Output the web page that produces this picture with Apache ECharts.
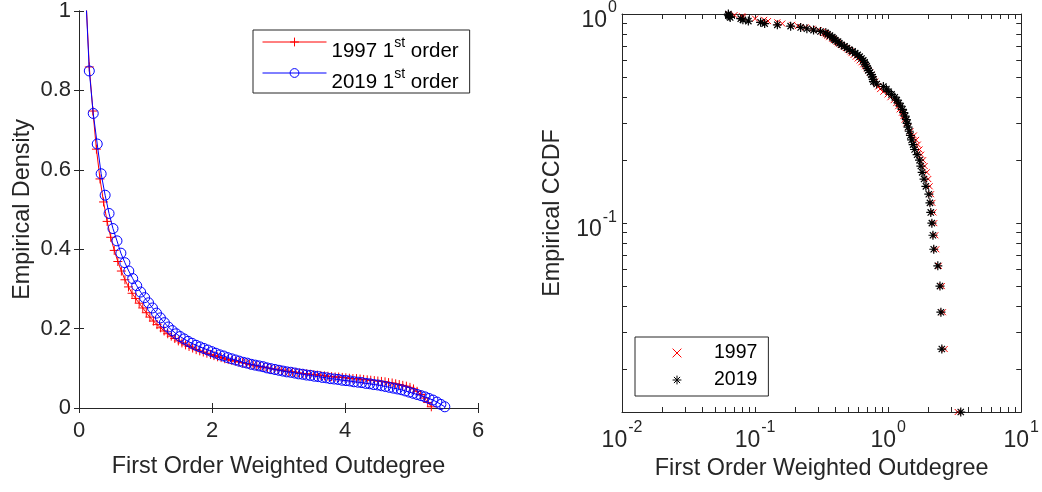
<!DOCTYPE html>
<html>
<head>
<meta charset="utf-8">
<script src="https://cdn.jsdelivr.net/npm/echarts@6/dist/echarts.min.js"></script>
<style>
html, body { margin: 0; padding: 0; background: #ffffff; }
#chart { width: 1042px; height: 492px; }
</style>
</head>
<body>
<div id="chart"></div>
<script>
// ---- Kernel density of first order weighted outdegree ----
const densityX1997 = [0.100, 0.155, 0.209, 0.262, 0.316, 0.369, 0.423, 0.477, 0.530, 0.584, 0.637, 0.691, 0.744, 0.798, 0.852, 0.905, 0.959, 1.012, 1.066, 1.119, 1.173, 1.227, 1.280, 1.334, 1.387, 1.441, 1.494, 1.548, 1.602, 1.655, 1.709, 1.762, 1.816, 1.869, 1.923, 1.977, 2.030, 2.084, 2.137, 2.191, 2.244, 2.298, 2.352, 2.405, 2.459, 2.512, 2.566, 2.619, 2.673, 2.727, 2.780, 2.834, 2.887, 2.941, 2.994, 3.048, 3.102, 3.155, 3.209, 3.262, 3.316, 3.369, 3.423, 3.477, 3.530, 3.584, 3.637, 3.691, 3.744, 3.798, 3.852, 3.905, 3.959, 4.012, 4.066, 4.119, 4.173, 4.227, 4.280, 4.334, 4.387, 4.441, 4.494, 4.548, 4.602, 4.655, 4.709, 4.762, 4.816, 4.869, 4.923, 4.977, 5.030, 5.084, 5.137, 5.191, 5.244, 5.298];
const density1997 = [1.050, 0.859, 0.748, 0.652, 0.577, 0.519, 0.470, 0.430, 0.397, 0.369, 0.345, 0.323, 0.305, 0.289, 0.276, 0.264, 0.252, 0.240, 0.229, 0.219, 0.210, 0.202, 0.194, 0.187, 0.181, 0.175, 0.169, 0.164, 0.159, 0.155, 0.151, 0.147, 0.144, 0.141, 0.138, 0.135, 0.132, 0.129, 0.127, 0.124, 0.122, 0.120, 0.118, 0.116, 0.114, 0.112, 0.110, 0.108, 0.106, 0.104, 0.103, 0.101, 0.099, 0.098, 0.096, 0.095, 0.093, 0.092, 0.091, 0.090, 0.088, 0.087, 0.086, 0.085, 0.084, 0.083, 0.082, 0.081, 0.080, 0.079, 0.078, 0.078, 0.077, 0.076, 0.075, 0.074, 0.074, 0.073, 0.072, 0.071, 0.070, 0.069, 0.068, 0.067, 0.066, 0.064, 0.063, 0.061, 0.059, 0.057, 0.055, 0.052, 0.048, 0.042, 0.034, 0.025, 0.014, 0.003];
const densityX2019 = [0.096, 0.155, 0.214, 0.274, 0.333, 0.393, 0.452, 0.511, 0.571, 0.630, 0.690, 0.749, 0.808, 0.868, 0.927, 0.987, 1.046, 1.105, 1.165, 1.224, 1.284, 1.343, 1.402, 1.462, 1.521, 1.581, 1.640, 1.699, 1.759, 1.818, 1.878, 1.937, 1.996, 2.056, 2.115, 2.175, 2.234, 2.293, 2.353, 2.412, 2.472, 2.531, 2.590, 2.650, 2.709, 2.769, 2.828, 2.887, 2.947, 3.006, 3.066, 3.125, 3.184, 3.244, 3.303, 3.363, 3.422, 3.481, 3.541, 3.600, 3.660, 3.719, 3.778, 3.838, 3.897, 3.957, 4.016, 4.075, 4.135, 4.194, 4.254, 4.313, 4.372, 4.432, 4.491, 4.551, 4.610, 4.669, 4.729, 4.788, 4.848, 4.907, 4.966, 5.026, 5.085, 5.145, 5.204, 5.263, 5.323, 5.382, 5.442, 5.501];
const density2019 = [1.060, 0.849, 0.742, 0.665, 0.590, 0.536, 0.490, 0.452, 0.421, 0.390, 0.366, 0.345, 0.326, 0.308, 0.292, 0.278, 0.265, 0.252, 0.239, 0.227, 0.215, 0.204, 0.195, 0.187, 0.180, 0.174, 0.168, 0.163, 0.158, 0.154, 0.150, 0.146, 0.142, 0.138, 0.134, 0.131, 0.127, 0.124, 0.121, 0.118, 0.115, 0.113, 0.110, 0.108, 0.106, 0.104, 0.101, 0.099, 0.097, 0.095, 0.093, 0.091, 0.090, 0.088, 0.086, 0.085, 0.083, 0.082, 0.080, 0.079, 0.077, 0.076, 0.074, 0.073, 0.072, 0.070, 0.069, 0.068, 0.066, 0.065, 0.064, 0.062, 0.061, 0.059, 0.058, 0.056, 0.054, 0.052, 0.050, 0.048, 0.046, 0.043, 0.040, 0.037, 0.034, 0.031, 0.028, 0.024, 0.020, 0.015, 0.009, 0.003];

// ---- Empirical CCDF (80 countries, sorted ascending) ----
const ccdfLevels = [1, 0.9875, 0.975, 0.9625, 0.95, 0.9375, 0.925, 0.9125, 0.9, 0.8875, 0.875, 0.8625, 0.85, 0.8375, 0.825, 0.8125, 0.8, 0.7875, 0.775, 0.7625, 0.75, 0.7375, 0.725, 0.7125, 0.7, 0.6875, 0.675, 0.6625, 0.65, 0.6375, 0.625, 0.6125, 0.6, 0.5875, 0.575, 0.5625, 0.55, 0.5375, 0.525, 0.5125, 0.5, 0.4875, 0.475, 0.4625, 0.45, 0.4375, 0.425, 0.4125, 0.4, 0.3875, 0.375, 0.3625, 0.35, 0.3375, 0.325, 0.3125, 0.3, 0.2875, 0.275, 0.2625, 0.25, 0.2375, 0.225, 0.2125, 0.2, 0.1875, 0.175, 0.1625, 0.15, 0.1375, 0.125, 0.1125, 0.1, 0.0875, 0.075, 0.0625, 0.05, 0.0375, 0.025, 0.0125];
const outdeg1997 = [0.063, 0.070, 0.080, 0.081, 0.100, 0.117, 0.125, 0.147, 0.160, 0.190, 0.210, 0.240, 0.270, 0.300, 0.320, 0.330, 0.340, 0.350, 0.360, 0.380, 0.390, 0.410, 0.420, 0.440, 0.460, 0.480, 0.500, 0.520, 0.530, 0.550, 0.570, 0.590, 0.610, 0.630, 0.650, 0.670, 0.690, 0.710, 0.730, 0.750, 0.760, 0.780, 0.800, 0.820, 0.840, 0.870, 0.920, 0.990, 1.040, 1.100, 1.150, 1.190, 1.220, 1.270, 1.300, 1.330, 1.370, 1.410, 1.470, 1.560, 1.620, 1.670, 1.720, 1.770, 1.830, 1.880, 1.950, 2.000, 2.050, 2.100, 2.150, 2.190, 2.220, 2.260, 2.300, 2.400, 2.530, 2.580, 2.660, 3.330];
const outdeg2019 = [0.063, 0.063, 0.064, 0.065, 0.078, 0.081, 0.089, 0.110, 0.118, 0.147, 0.185, 0.220, 0.245, 0.275, 0.310, 0.340, 0.350, 0.365, 0.380, 0.390, 0.400, 0.420, 0.430, 0.445, 0.470, 0.490, 0.510, 0.540, 0.565, 0.590, 0.610, 0.630, 0.650, 0.665, 0.670, 0.690, 0.700, 0.710, 0.730, 0.750, 0.760, 0.770, 0.775, 0.820, 0.920, 0.970, 1.010, 1.060, 1.120, 1.160, 1.200, 1.240, 1.280, 1.310, 1.340, 1.370, 1.390, 1.410, 1.440, 1.470, 1.500, 1.540, 1.580, 1.650, 1.720, 1.760, 1.800, 1.860, 1.920, 2.020, 2.060, 2.090, 2.130, 2.170, 2.200, 2.360, 2.450, 2.490, 2.530, 3.510];

// ---- Tick positions ----
const logTicksX = [0.01, 0.02, 0.03, 0.04, 0.05, 0.06, 0.07, 0.08, 0.09, 0.1, 0.2, 0.3, 0.4, 0.5, 0.6, 0.7, 0.8, 0.9, 1, 2, 3, 4, 5, 6, 7, 8, 9, 10];
const logLabelsX = [0.01, 0.1, 1, 10];
const logTicksY = [0.02, 0.03, 0.04, 0.05, 0.06, 0.07, 0.08, 0.09, 0.1, 0.2, 0.3, 0.4, 0.5, 0.6, 0.7, 0.8, 0.9, 1];
const logLabelsY = [0.1, 1];

const FONT = '"Liberation Sans", Arial, Helvetica, sans-serif';
const AXIS = '#262626';
const TICK_FS = 22;
const NAME_FS = 23.4;

const zip = (xs, ys) => xs.map((x, i) => [x, ys[i]]);

const PLUS = 'path://M5 0 L5 10 M0 5 L10 5';
const CROSS = 'path://M0 0 L10 10 M0 10 L10 0';
const STAR = 'path://M5 0 L5 10 M0 5 L10 5 M1.5 1.5 L8.5 8.5 M1.5 8.5 L8.5 1.5';

const lineCommon = { show: true, lineStyle: { color: AXIS, width: 1 } };
const tickIn = (extra) => Object.assign({ show: true, inside: true, length: 5, lineStyle: { color: AXIS, width: 1 } }, extra || {});
const labelStyle = { color: AXIS, fontFamily: FONT, fontSize: TICK_FS };
const nameStyle = { color: AXIS, fontFamily: FONT, fontSize: NAME_FS };

const powRich = {
  b: { fontFamily: FONT, fontSize: 23, color: AXIS, lineHeight: 28, padding: [9, 0, 0, 0], verticalAlign: 'top' },
  e: { fontFamily: FONT, fontSize: 16, color: AXIS, lineHeight: 28, padding: [0, 0, 0, 1], verticalAlign: 'top' }
};
const powLabel = v => '{b|10}{e|' + Math.round(Math.log10(v)) + '}';

const legendRich = {
  a: { color: '#000', fontFamily: FONT, fontSize: 20.5, lineHeight: 24, padding: [11, 0, 0, 0], verticalAlign: 'top' },
  s: { color: '#000', fontFamily: FONT, fontSize: 14, lineHeight: 24, padding: [6, 0, 0, 0], verticalAlign: 'top' }
};

const option = {
  animation: false,
  backgroundColor: '#ffffff',
  grid: [
    { left: 79, top: 9, width: 399, height: 399, containLabel: false },
    { left: 622, top: 10, width: 402, height: 402, containLabel: false }
  ],
  xAxis: [
    { gridIndex: 0, type: 'value', min: 0, max: 6, interval: 2, position: 'bottom',
      axisLine: lineCommon, axisTick: tickIn(), splitLine: { show: false },
      axisLabel: Object.assign({ margin: 12 }, labelStyle),
      name: 'First Order Weighted Outdegree', nameLocation: 'middle', nameGap: 47, nameTextStyle: nameStyle },
    { gridIndex: 0, type: 'value', min: 0, max: 6, interval: 2, position: 'top',
      axisLine: lineCommon, axisTick: tickIn(), splitLine: { show: false }, axisLabel: { show: false } },
    { gridIndex: 1, type: 'log', logBase: 10, min: 0.01, max: 10, position: 'bottom',
      axisLine: lineCommon, axisTick: tickIn({ customValues: logTicksX }), splitLine: { show: false },
      axisLabel: { customValues: logLabelsX, margin: 8, formatter: powLabel, rich: powRich, color: AXIS, fontFamily: FONT, fontSize: 23 },
      name: 'First Order Weighted Outdegree', nameLocation: 'middle', nameGap: 43, nameTextStyle: nameStyle },
    { gridIndex: 1, type: 'log', logBase: 10, min: 0.01, max: 10, position: 'top',
      axisLine: lineCommon, axisTick: tickIn({ customValues: logTicksX }), splitLine: { show: false }, axisLabel: { show: false } }
  ],
  yAxis: [
    { gridIndex: 0, type: 'value', min: 0, max: 1, interval: 0.2, position: 'left',
      axisLine: lineCommon, axisTick: tickIn(), splitLine: { show: false },
      axisLabel: Object.assign({ margin: 8 }, labelStyle),
      name: 'Empirical Density', nameLocation: 'middle', nameGap: 45, nameTextStyle: nameStyle },
    { gridIndex: 0, type: 'value', min: 0, max: 1, interval: 0.2, position: 'right',
      axisLine: lineCommon, axisTick: tickIn(), splitLine: { show: false }, axisLabel: { show: false } },
    { gridIndex: 1, type: 'log', logBase: 10, min: 0.0125, max: 1, position: 'left',
      axisLine: lineCommon, axisTick: tickIn({ customValues: logTicksY }), splitLine: { show: false },
      axisLabel: { customValues: logLabelsY, margin: 5, formatter: powLabel, rich: powRich, color: AXIS, fontFamily: FONT, fontSize: 23 },
      name: 'Empirical CCDF', nameLocation: 'middle', nameGap: 58, nameTextStyle: nameStyle },
    { gridIndex: 1, type: 'log', logBase: 10, min: 0.0125, max: 1, position: 'right',
      axisLine: lineCommon, axisTick: tickIn({ customValues: logTicksY }), splitLine: { show: false }, axisLabel: { show: false } }
  ],
  legend: [
    {
      orient: 'vertical', left: 253, top: 30,
      data: ['1997 1st order', '2019 1st order'],
      itemWidth: 64, itemHeight: 11, itemGap: -1,
      padding: [0, 11, 0, 9],
      borderColor: AXIS, borderWidth: 1, backgroundColor: '#ffffff',
      itemStyle: { borderWidth: 1 },
      lineStyle: { width: 1 },
      formatter: n => '{a|' + n.split(' ')[0] + ' 1}{s|st}{a| order}',
      textStyle: { color: '#000', fontFamily: FONT, fontSize: 20.5, lineHeight: 24, rich: legendRich }
    },
    {
      orient: 'vertical', left: 635, top: 337,
      data: ['1997', '2019'],
      itemWidth: 64, itemHeight: 11, itemGap: 3,
      padding: [4, 11, 4, 9],
      borderColor: AXIS, borderWidth: 1, backgroundColor: '#ffffff',
      itemStyle: { borderWidth: 1 },
      lineStyle: { opacity: 0 },
      textStyle: { color: '#000', fontFamily: FONT, fontSize: 19.5, lineHeight: 24 }
    }
  ],
  series: [
    {
      type: 'line', name: '1997 1st order', xAxisIndex: 0, yAxisIndex: 0,
      data: zip(densityX1997, density1997),
      symbol: PLUS, symbolSize: 9,
      lineStyle: { color: '#ff0000', width: 1 },
      itemStyle: { color: '#ff0000', borderColor: '#ff0000', borderWidth: 1 },
      z: 2
    },
    {
      type: 'line', name: '2019 1st order', xAxisIndex: 0, yAxisIndex: 0,
      data: zip(densityX2019, density2019),
      symbol: 'circle', symbolSize: 10,
      lineStyle: { color: '#0000ff', width: 1 },
      itemStyle: { color: 'rgba(0,0,0,0)', borderColor: '#0000ff', borderWidth: 1 },
      z: 3
    },
    {
      type: 'line', name: '1997', xAxisIndex: 2, yAxisIndex: 2,
      data: zip(outdeg1997, ccdfLevels),
      symbol: CROSS, symbolSize: 6,
      lineStyle: { opacity: 0 },
      itemStyle: { color: '#ff0000', borderColor: '#ff0000', borderWidth: 1 },
      z: 2
    },
    {
      type: 'line', name: '2019', xAxisIndex: 2, yAxisIndex: 2,
      data: zip(outdeg2019, ccdfLevels),
      symbol: STAR, symbolSize: 9,
      lineStyle: { opacity: 0 },
      itemStyle: { color: '#000000', borderColor: '#000000', borderWidth: 1.2 },
      z: 3
    }
  ]
};

const chart = echarts.init(document.getElementById('chart'), null, { renderer: 'canvas' });
chart.setOption(option);
</script>
</body>
</html>
